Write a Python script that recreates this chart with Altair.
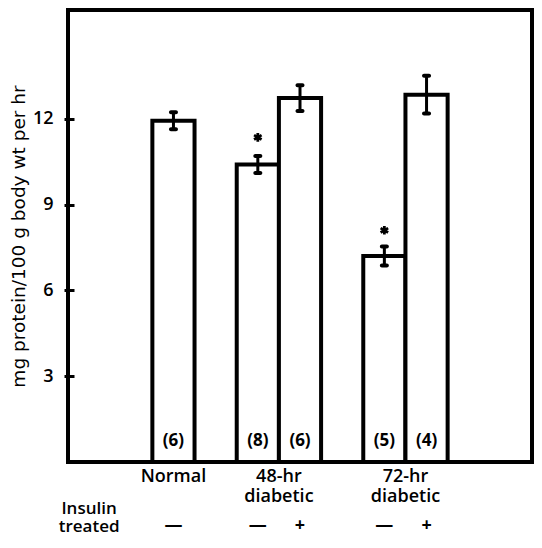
import altair as alt
import pandas as pd

# ---- data ----
bar_slot = [2, 4, 5, 7, 8]
bar_group = ["Normal", "48-hr diabetic", "48-hr diabetic", "72-hr diabetic", "72-hr diabetic"]
insulin = ["—", "—", "+", "—", "+"]
means = [11.93, 10.4, 12.72, 7.2, 12.84]
sem = [0.3, 0.3, 0.45, 0.33, 0.66]
n_rats = [6, 8, 6, 5, 4]

star_slot = [4, 7]
star_value = [11.35, 8.1]

group_slot = [2, 4.5, 7.5]
group_label = [["Normal"], ["48-hr", "diabetic"], ["72-hr", "diabetic"]]

row_label_slot = [0]
row_label = [["Insulin", "treated"]]

y_ticks = [3, 6, 9, 12]

FONT = "DejaVu Sans"
LFONT = "Open Sans"

bars = pd.DataFrame({
    "slot": bar_slot,
    "group": bar_group,
    "insulin": insulin,
    "mean": means,
    "sem": sem,
    "n": [f"({v})" for v in n_rats],
})
bars["lo"] = bars["mean"] - bars["sem"]
bars["hi"] = bars["mean"] + bars["sem"]
bars["left"] = bars["slot"] - 0.5
bars["right"] = bars["slot"] + 0.5

stars = pd.DataFrame({"slot": star_slot, "value": star_value})
groups = pd.DataFrame({"slot": group_slot, "label": group_label})
rowlab = pd.DataFrame({"slot": row_label_slot, "label": row_label})

xscale = alt.Scale(domain=[-0.5, 10.5], nice=False, zero=False)
yscale = alt.Scale(domain=[0, 15.8], nice=False)

base = alt.Chart(bars)

bar_layer = base.mark_bar(fill="white", stroke="black", strokeWidth=4, strokeJoin="miter").encode(
    x=alt.X("left:Q", scale=xscale, axis=None),
    x2="right:Q",
    y=alt.Y("mean:Q", scale=yscale,
            axis=alt.Axis(title="mg protein/100 g body wt per hr", values=y_ticks,
                          domain=False, grid=False, offset=-6, tickSize=10, tickWidth=3,
                          tickColor="black", labelPadding=11, labelFontSize=18,
                          labelFont=LFONT, labelFontWeight=600, labelColor="black",
                          titleFont=FONT, titleFontSize=18.5, titleFontWeight="normal",
                          titleColor="black", titlePadding=4)),
    y2=alt.datum(0),
)

err_line = base.mark_rule(stroke="black", strokeWidth=3).encode(
    x="slot:Q", y="lo:Q", y2="hi:Q"
)
cap_hi = base.mark_tick(orient="horizontal", color="black", opacity=1, size=9, thickness=4,
                        cornerRadius=2).encode(x="slot:Q", y="hi:Q")
cap_lo = base.mark_tick(orient="horizontal", color="black", opacity=1, size=9, thickness=4,
                        cornerRadius=2).encode(x="slot:Q", y="lo:Q")

n_text = base.mark_text(font=LFONT, fontSize=17, fontWeight="bold", color="black",
                        baseline="middle", dy=-21).encode(
    x="slot:Q", y=alt.datum(0), text="n:N"
)

sign_text = base.mark_text(font=LFONT, fontSize=18, fontWeight=700, color="black",
                           baseline="middle", dy=64).encode(
    x="slot:Q", y=alt.datum(0), text="insulin:N"
)

star_layer = alt.Chart(stars).mark_point(
    shape="M0,-1L0,1M-0.87,-0.5L0.87,0.5M-0.87,0.5L0.87,-0.5",
    filled=False, stroke="black", strokeWidth=2.8, size=75, opacity=1
).encode(x=alt.X("slot:Q", scale=xscale), y=alt.Y("value:Q", scale=yscale))

group_text = alt.Chart(groups).mark_text(font=LFONT, fontSize=18, fontWeight=600, color="black",
                                         baseline="alphabetic", dy=20, lineHeight=20).encode(
    x=alt.X("slot:Q", scale=xscale), y=alt.datum(0), text="label"
)

row_text = alt.Chart(rowlab).mark_text(font=LFONT, fontSize=17, fontWeight=600, color="black",
                                       baseline="alphabetic", dy=52, lineHeight=18).encode(
    x=alt.X("slot:Q", scale=xscale), y=alt.datum(0), text="label"
)

chart = alt.layer(
    bar_layer, err_line, cap_hi, cap_lo, n_text, sign_text, star_layer, group_text, row_text
).properties(
    width=464, height=452,
    autosize=alt.AutoSizeParams(type="none"),
    padding={"left": 60, "top": 2, "right": 2, "bottom": 76},
    background="white",
).configure_view(
    stroke="black", strokeWidth=4
)

chart.save("out.html", embed_options={"renderer": "svg", "actions": False})
